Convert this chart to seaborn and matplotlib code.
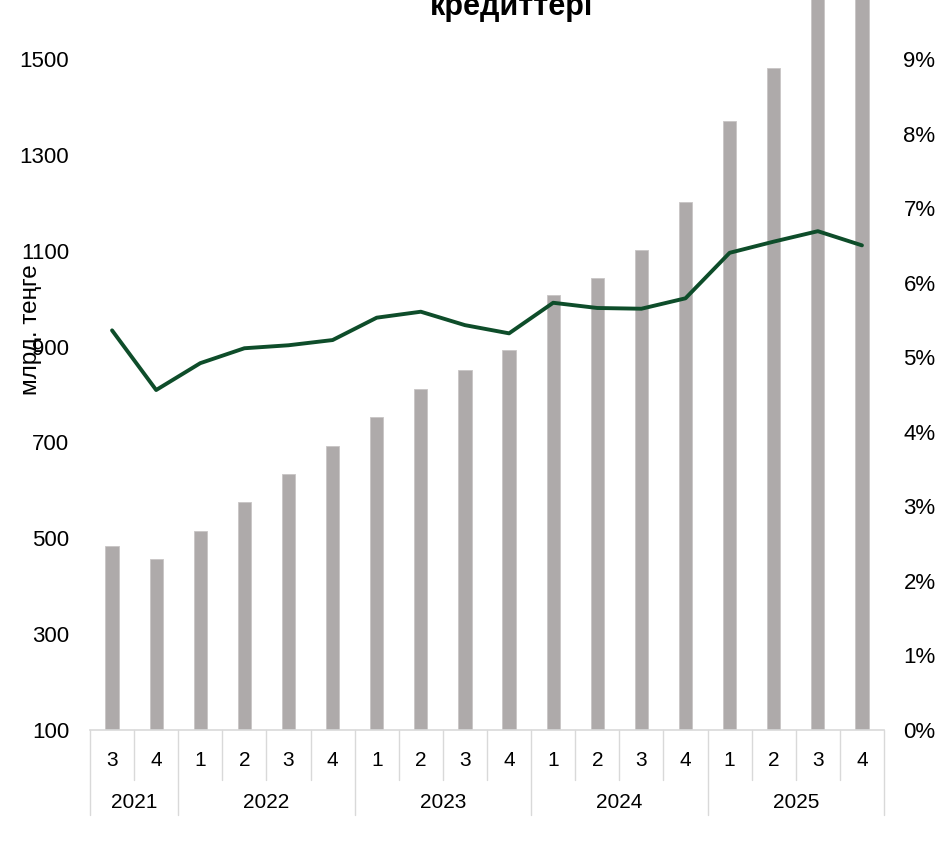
import numpy as np
import pandas as pd
import matplotlib
matplotlib.use('Agg')
import matplotlib.pyplot as plt
import seaborn as sns

# quarterly data, 2021Q3 - 2025Q4
years = ['2021', '2021', '2022', '2022', '2022', '2022', '2023', '2023', '2023', '2023',
         '2024', '2024', '2024', '2024', '2025', '2025', '2025', '2025']
quarters = ['3', '4', '1', '2', '3', '4', '1', '2', '3', '4',
            '1', '2', '3', '4', '1', '2', '3', '4']
# volume, bn tenge (left axis)
volume = [484, 457, 515, 576, 634, 693, 753, 811, 851, 893,
          1008, 1043, 1101, 1202, 1371, 1481, 1650, 1700]
# share, % (right axis)
share = [5.36, 4.56, 4.92, 5.12, 5.16, 5.23, 5.53, 5.61, 5.43, 5.32,
         5.73, 5.66, 5.65, 5.79, 6.40, 6.55, 6.69, 6.50]

df = pd.DataFrame({'year': years, 'quarter': quarters, 'volume': volume, 'share': share})
df['key'] = df['year'] + 'Q' + df['quarter']

sns.set_style('white')
plt.rcParams['font.family'] = ['Liberation Sans', 'DejaVu Sans']
plt.rcParams['text.color'] = 'black'
plt.rcParams['xtick.color'] = 'black'
plt.rcParams['ytick.color'] = 'black'
plt.rcParams['axes.labelcolor'] = 'black'

fig = plt.figure(figsize=(9.51, 8.43), dpi=100)
ax = fig.add_axes([90 / 951, 113 / 843, 794 / 951, 730 / 843])

sns.barplot(data=df, x='key', y='volume', order=df['key'], color='#AEAAAA',
            width=0.3, edgecolor='#C8C5C5', linewidth=0.6, saturation=1, ax=ax)
ax.set_ylim(100, 100 + 730 / 0.4793)
ax.set_yticks(range(100, 1501, 200))
ax.set_xlim(-0.5, len(df) - 0.5)
ax.tick_params(axis='y', labelsize=16, length=0, pad=15)
ax.set_ylabel('млрд. теңге', fontsize=17.5)
ax.yaxis.set_label_coords(-0.06, 0.548)
ax.set_xlabel('')

# two-level category axis
ax.set_xticks(np.arange(len(df)))
ax.set_xticklabels(df['quarter'], fontsize=15)
ax.tick_params(axis='x', length=0, pad=15)
trans = ax.get_xaxis_transform()
sep_col = '#D9D9D9'
for i in range(len(df) + 1):
    boundary = i == 0 or i == len(df) or df['year'].iloc[i] != df['year'].iloc[i - 1]
    bottom = -85 / 730 if boundary else -50 / 730
    ax.plot([i - 0.5, i - 0.5], [0, bottom], transform=trans, color=sep_col,
            lw=1, clip_on=False)
for yr, grp in df.groupby('year'):
    pos = grp.index.to_numpy()
    ax.text(pos.mean(), -72 / 730, yr, transform=trans, ha='center', va='center',
            fontsize=15)

for s in ['top', 'left', 'right']:
    ax.spines[s].set_visible(False)
ax.spines['bottom'].set_color(sep_col)
ax.spines['bottom'].set_linewidth(1.2)

ax2 = ax.twinx()
sns.lineplot(x=np.arange(len(df)), y=df['share'], color='#0E4D2A', linewidth=2.8,
             ax=ax2)
ax2.set_ylim(0, 730 / 74.56)
ax2.set_yticks(range(0, 10))
ax2.set_yticklabels([f'{v}%' for v in range(0, 10)])
ax2.tick_params(axis='y', labelsize=16, length=0, pad=14)
ax2.set_ylabel('')
for s in ['top', 'left', 'right', 'bottom']:
    ax2.spines[s].set_visible(False)

fig.text(512 / 951, 1 - 15 / 843, 'кредиттері', ha='center', va='baseline',
         fontsize=22, fontweight='bold')

fig.savefig('out.png', dpi=100)
